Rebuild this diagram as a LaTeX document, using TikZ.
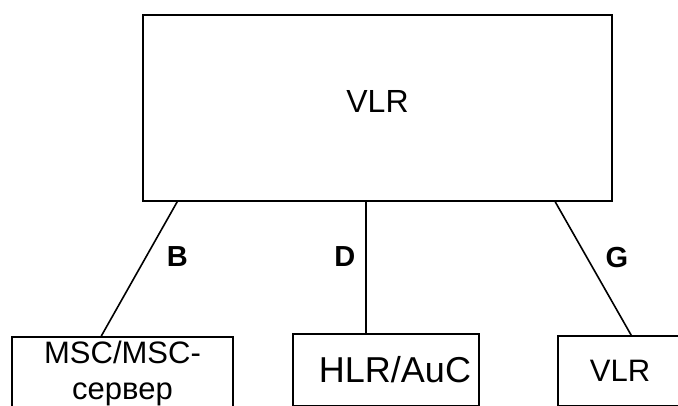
\documentclass[tikz,border=0pt]{standalone}
\usepackage{fontspec}
\setmainfont{Liberation Sans}
\usetikzlibrary{positioning}

\begin{document}
\begin{tikzpicture}[
    x=1pt, y=-1pt,
    box/.style={draw, line width=1.6pt, inner sep=0pt},
    link/.style={line width=1.6pt},
    lbl/.style={font=\fontsize{29}{34}\selectfont\bfseries, inner sep=0pt},
]
\useasboundingbox (0,0) rectangle (678,406);
\clip (0,0) rectangle (678,406);

% main register
\node[box, minimum width=469pt, minimum height=186pt, text depth=14pt,
      font=\fontsize{32}{37}\selectfont] (vlr) at (377.5,108) {VLR};

% lower boxes, cut off by the page edge
\node[box, minimum width=221pt, minimum height=72pt, align=center,
      font=\fontsize{31}{36}\selectfont] (msc) at (122.5,373) {MSC/MSC-\\сервер};
\node[box, minimum width=186pt, minimum height=72pt,
      font=\fontsize{36}{42}\selectfont] (hlr) at (386,370) {\hspace*{18pt}HLR/AuC};
\node[box, minimum width=124pt, minimum height=70pt,
      font=\fontsize{31}{37}\selectfont] (vlrb) at (620,371) {VLR};

% interfaces
\draw[link] ([xshift=35pt]vlr.south west) -- ([xshift=90pt]msc.north west)
    node[lbl, pos=0.41, right=20pt] (ifb) {B};
\draw[link] ([xshift=224pt]vlr.south west) -- ([xshift=74pt]hlr.north west)
    node[lbl, pos=0.42, left=10pt] (ifd) {D};
\draw[link] ([xshift=413pt]vlr.south west) -- ([xshift=74pt]vlrb.north west)
    node[lbl, pos=0.415, right=18pt] (ifg) {G};
\end{tikzpicture}
\end{document}
